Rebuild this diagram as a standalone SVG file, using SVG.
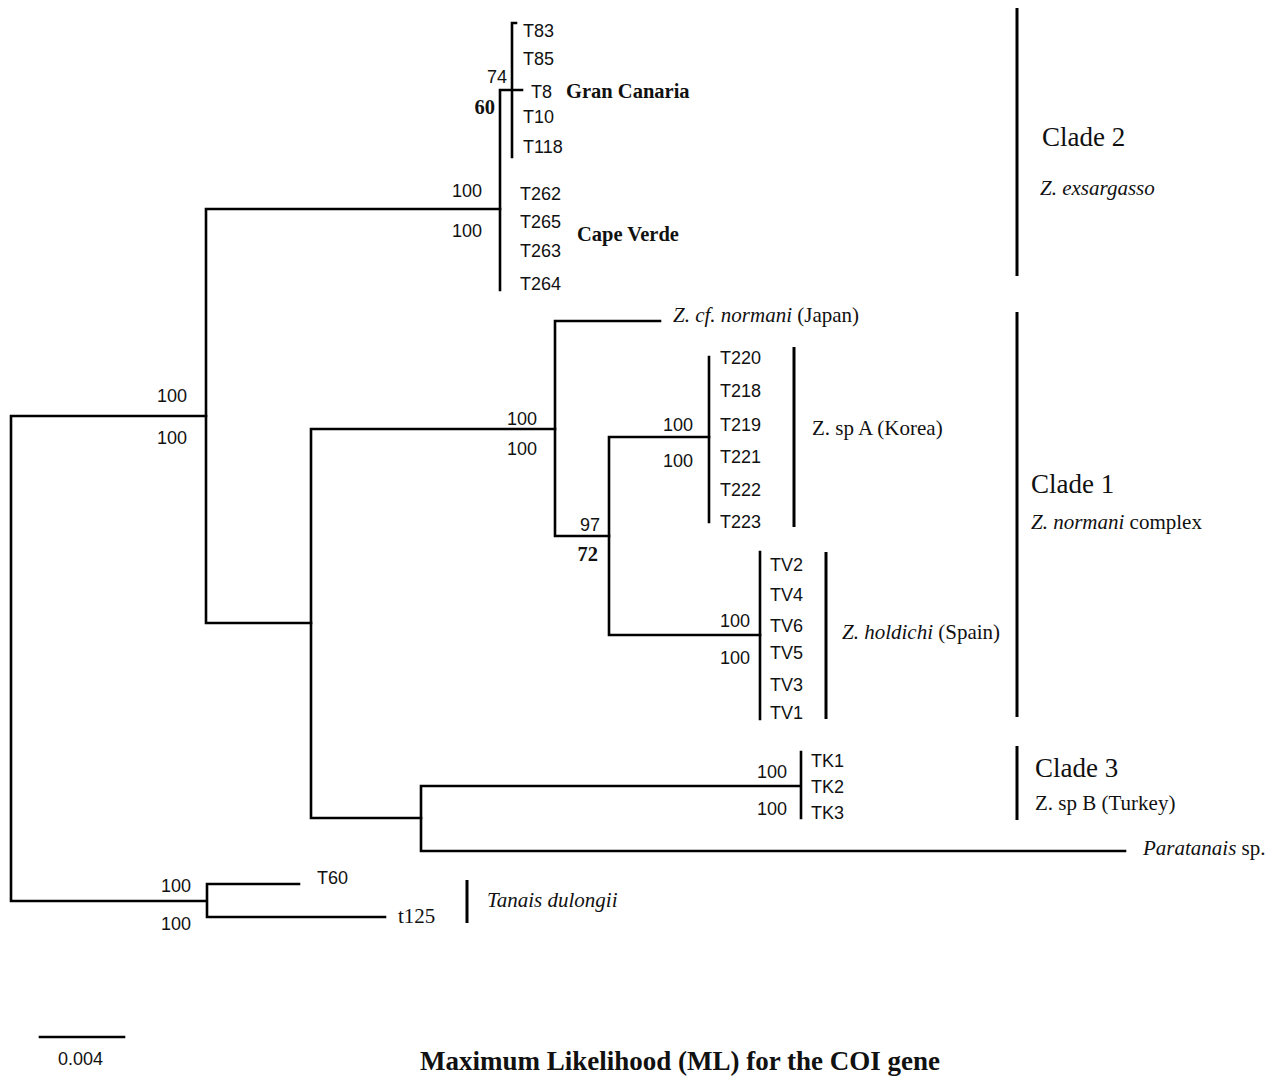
<svg xmlns="http://www.w3.org/2000/svg" width="1276" height="1077" viewBox="0 0 1276 1077">
<style>
.br{fill:none;stroke:#000;stroke-width:2.6;stroke-linecap:square}
.bk{fill:none;stroke:#000;stroke-width:3}
.s{font-family:"Liberation Sans",Arial,sans-serif;font-size:18px;fill:#111}
.r{font-family:"Liberation Serif","Times New Roman",serif;font-size:21px;fill:#111}
.b{font-family:"Liberation Serif","Times New Roman",serif;font-size:20.5px;font-weight:bold;fill:#111}
.c{font-family:"Liberation Serif","Times New Roman",serif;font-size:27px;fill:#111}
.i{font-style:italic}
.e{text-anchor:end}
</style>
<rect width="1276" height="1077" fill="#fff"/>
<g id="connectors">
<path class="br" d="M11,416V901M11,416H206M11,901H206"/>
<path class="br" d="M206,209V623M206,209H500M206,623H311"/>
<path class="br" d="M500,90V290M500,90H522M512,23V157M512,23H516"/>
<path class="br" d="M311,429V818M311,429H555M311,818H421"/>
<path class="br" d="M555,321V536M555,321H660M555,536H609"/>
<path class="br" d="M609,437V635M609,437H709M609,635H760"/>
<path class="br" d="M709,357V522M760,552V719"/>
<path class="br" d="M421,786V851M421,786H801M421,851H1125M801,752V818"/>
<path class="br" d="M207,884V917M207,884H299M207,917H385"/>
<path class="br" d="M40,1037H124"/>
</g>
<g id="brackets">
<path class="bk" d="M1017,8V276M1017,312V717M1017,746V820M794,347V527M826,552V719M467,880V923"/>
</g>
<g id="clade2">
<text class="s" x="523" y="37">T83</text>
<text class="s" x="523" y="65">T85</text>
<text class="s" x="531" y="98">T8</text>
<text class="s" x="523" y="123">T10</text>
<text class="s" x="523" y="153">T118</text>
<text class="s" x="520" y="200">T262</text>
<text class="s" x="520" y="228">T265</text>
<text class="s" x="520" y="257">T263</text>
<text class="s" x="520" y="290">T264</text>
<text class="s e" x="507" y="83">74</text>
<text class="b e" x="495" y="114">60</text>
<text class="s e" x="482" y="197">100</text>
<text class="s e" x="482" y="237">100</text>
<text class="b" x="566" y="98">Gran Canaria</text>
<text class="b" x="577" y="241">Cape Verde</text>
<text class="c" x="1042" y="146">Clade 2</text>
<text class="r i" x="1040" y="195">Z. exsargasso</text>
</g>
<g id="clade1">
<text class="r" x="673" y="322"><tspan class="i">Z. cf. normani</tspan> (Japan)</text>
<text class="s" x="720" y="364">T220</text>
<text class="s" x="720" y="397">T218</text>
<text class="s" x="720" y="431">T219</text>
<text class="s" x="720" y="463">T221</text>
<text class="s" x="720" y="496">T222</text>
<text class="s" x="720" y="528">T223</text>
<text class="s e" x="693" y="431">100</text>
<text class="s e" x="693" y="467">100</text>
<text class="r" x="812" y="435">Z. sp A (Korea)</text>
<text class="s e" x="537" y="425">100</text>
<text class="s e" x="537" y="455">100</text>
<text class="s e" x="600" y="531">97</text>
<text class="b e" x="598" y="561">72</text>
<text class="s" x="770" y="571">TV2</text>
<text class="s" x="770" y="601">TV4</text>
<text class="s" x="770" y="632">TV6</text>
<text class="s" x="770" y="659">TV5</text>
<text class="s" x="770" y="691">TV3</text>
<text class="s" x="770" y="719">TV1</text>
<text class="s e" x="750" y="627">100</text>
<text class="s e" x="750" y="664">100</text>
<text class="r" x="842" y="639"><tspan class="i">Z. holdichi</tspan> (Spain)</text>
<text class="c" x="1031" y="493">Clade 1</text>
<text class="r" x="1031" y="529"><tspan class="i">Z. normani</tspan> complex</text>
</g>
<g id="clade3">
<text class="s" x="811" y="767">TK1</text>
<text class="s" x="811" y="793">TK2</text>
<text class="s" x="811" y="819">TK3</text>
<text class="s e" x="787" y="778">100</text>
<text class="s e" x="787" y="815">100</text>
<text class="c" x="1035" y="777">Clade 3</text>
<text class="r" x="1035" y="810">Z. sp B (Turkey)</text>
<text class="r" x="1143" y="855"><tspan class="i">Paratanais</tspan> sp.</text>
</g>
<g id="root">
<text class="s e" x="187" y="402">100</text>
<text class="s e" x="187" y="444">100</text>
</g>
<g id="outgroup">
<text class="s" x="317" y="884">T60</text>
<text class="r" x="398" y="923">t125</text>
<text class="s e" x="191" y="892">100</text>
<text class="s e" x="191" y="930">100</text>
<text class="r i" x="487" y="907">Tanais dulongii</text>
</g>
<g id="legend">
<text class="s" x="58" y="1065">0.004</text>
<text class="c" x="420" y="1070" font-weight="bold">Maximum Likelihood (ML) for the COI gene</text>
</g>
</svg>
